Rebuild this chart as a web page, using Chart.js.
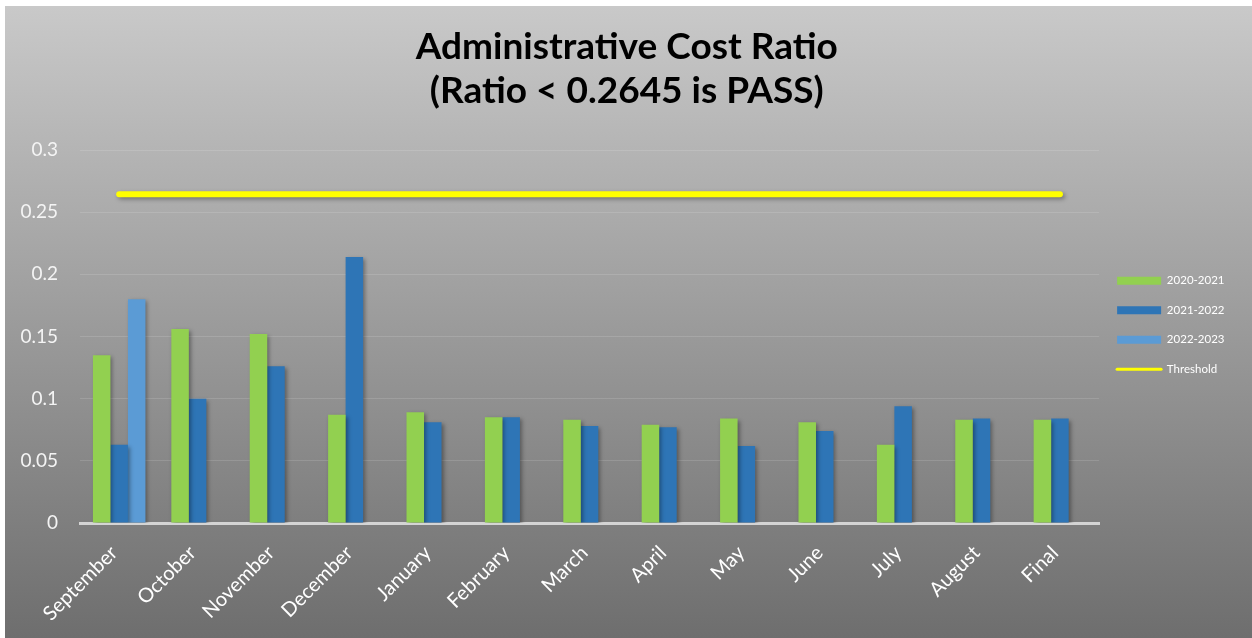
<!DOCTYPE html>
<html>
<head>
<meta charset="utf-8">
<script src="https://cdn.jsdelivr.net/npm/chart.js@4"></script>
<style>
    html, body { margin: 0; padding: 0; background: #ffffff; }
    #wrap {
        position: absolute; left: 5px; top: 6px;
        width: 1247px; height: 632px;
        background: linear-gradient(#c9c9c9, #6e6e6e);
    }
</style>
</head>
<body>
<div id="wrap"><canvas id="chart1"></canvas></div>
<script>
const months = ['September', 'October', 'November', 'December', 'January', 'February',
    'March', 'April', 'May', 'June', 'July', 'August', 'Final'];
const year2021 = [0.135, 0.156, 0.152, 0.087, 0.089, 0.085, 0.083, 0.079, 0.084, 0.081, 0.063, 0.083, 0.083];
const year2122 = [0.063, 0.100, 0.126, 0.214, 0.081, 0.085, 0.078, 0.077, 0.062, 0.074, 0.094, 0.084, 0.084];
const year2223 = [0.180, null, null, null, null, null, null, null, null, null, null, null, null];
const threshold = [0.2645, 0.2645, 0.2645, 0.2645, 0.2645, 0.2645, 0.2645,
    0.2645, 0.2645, 0.2645, 0.2645, 0.2645, 0.2645];

const shadow = {
    id: 'shadow',
    beforeDatasetDraw(chart) {
        const ctx = chart.ctx;
        ctx.save();
        ctx.shadowColor = 'rgba(0,0,0,0.35)';
        ctx.shadowBlur = 4;
        ctx.shadowOffsetX = 2;
        ctx.shadowOffsetY = 2;
    },
    afterDatasetDraw(chart) {
        chart.ctx.restore();
    }
};

const ctx = document.getElementById('chart1');
new Chart(ctx, {
    type: 'bar',
    data: {
        labels: months,
        datasets: [
            { label: '2020-2021', data: year2021, backgroundColor: '#92d050', order: 1 },
            { label: '2021-2022', data: year2122, backgroundColor: '#2e75b6', order: 1 },
            { label: '2022-2023', data: year2223, backgroundColor: '#5b9bd5', order: 1 },
            {
                type: 'line', label: 'Threshold', data: threshold,
                borderColor: '#ffff00', backgroundColor: '#ffff00',
                borderWidth: 6, borderCapStyle: 'round', pointRadius: 0, order: 0
            }
        ]
    },
    options: {
        responsive: true,
        maintainAspectRatio: false,
        animation: false,
        categoryPercentage: 0.67,
        barPercentage: 1,
        layout: { padding: { left: 14, right: 17.5, top: 0, bottom: 0 } },
        scales: {
            x: {
                afterFit(s) { s.height = 115; },
                grid: { display: false },
                border: { color: '#d4d4d4', width: 3 },
                ticks: {
                    color: '#ffffff',
                    font: { family: 'Lato', size: 20 },
                    maxRotation: 45, minRotation: 45, padding: 10,
                    labelOffset: -5
                }
            },
            y: {
                min: 0, max: 0.3,
                afterFit(s) { s.width = 61; },
                border: { display: false },
                grid: { color: 'rgba(255,255,255,0.13)', lineWidth: 1, drawTicks: false },
                ticks: {
                    stepSize: 0.05,
                    padding: 22,
                    color: '#f4f4f4',
                    font: { family: 'Lato', size: 19 },
                    callback: (v) => String(+v.toFixed(2))
                }
            }
        },
        plugins: {
            title: {
                display: true,
                text: ['Administrative Cost Ratio', '(Ratio < 0.2645 is PASS)'],
                color: '#000000',
                font: { family: 'Lato', size: 37, weight: 'bold', lineHeight: 1.19 },
                padding: { top: 19, bottom: 37 }
            },
            legend: {
                position: 'right',
                align: 'start',
                title: { display: true, text: '', padding: { top: 236.5, bottom: 0 } },
                labels: {
                    color: '#ffffff',
                    font: { family: 'Lato', size: 11.5, lineHeight: 0.81 },
                    boxWidth: 44, boxHeight: 8,
                    usePointStyle: true, pointStyleWidth: 44,
                    padding: 18,
                    sort: (a, b) => a.datasetIndex - b.datasetIndex,
                    generateLabels(chart) {
                        const items = Chart.defaults.plugins.legend.labels.generateLabels(chart);
                        items.forEach((it) => {
                            if (it.text === 'Threshold') {
                                it.pointStyle = 'line';
                                it.strokeStyle = '#ffff00';
                                it.lineWidth = 3;
                                it.lineCap = 'round';
                            } else {
                                it.pointStyle = 'rect';
                                it.lineWidth = 0;
                            }
                        });
                        return items;
                    }
                }
            },
            tooltip: { enabled: false }
        }
    },
    plugins: [shadow]
});
</script>
</body>
</html>
